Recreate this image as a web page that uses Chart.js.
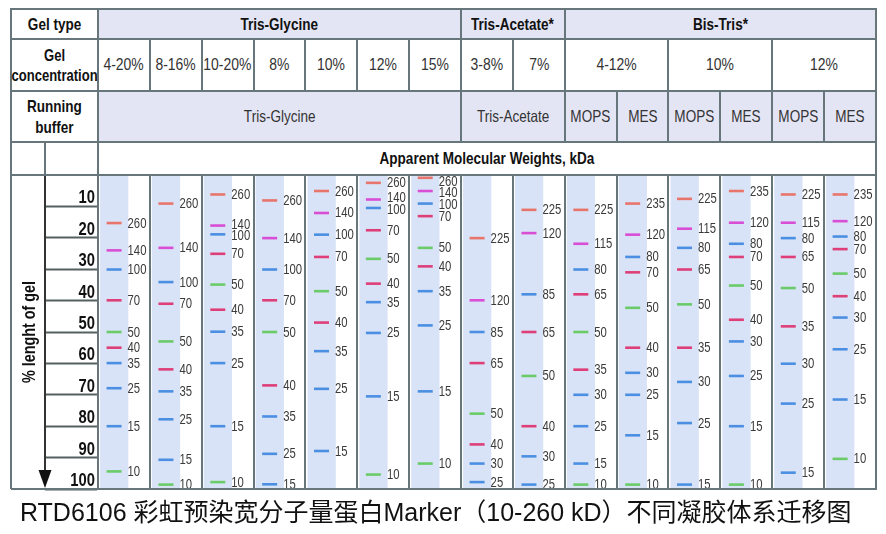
<!DOCTYPE html>
<html>
<head>
<meta charset="utf-8">
<script src="https://cdn.jsdelivr.net/npm/chart.js@4.4.1/dist/chart.umd.min.js"></script>
<style>
html,body{margin:0;padding:0;background:#fff;}
#wrap{position:relative;width:886px;height:534px;overflow:hidden;background:#fff;}
#c{position:absolute;left:0;top:0;}
.cell{position:absolute;box-sizing:border-box;display:flex;align-items:center;justify-content:center;text-align:center;
  font-family:"Liberation Sans",Arial,sans-serif;
  border:2px solid #66767a;line-height:1.22;white-space:nowrap;}
.cell span{display:inline-block;transform:scaleX(0.82);}
.b{font-weight:bold;font-size:16.5px;color:#111;}
.b.tight span{transform:scaleX(0.79);}
.r{font-size:16.5px;color:#333;}
.r.big{font-size:17px;}
.lav{background:#e4e5f4;}
.wh{background:#fff;}
#foot{position:absolute;left:20px;top:500px;font-family:"Liberation Sans","Noto Sans CJK SC",sans-serif;font-size:25px;line-height:25px;color:#111;white-space:nowrap;}
</style>
</head>
<body>
<div id="wrap">
  <canvas id="c" width="886" height="534"></canvas>
  <div id="foot">RTD6106 彩虹预染宽分子量蛋白Marker（10-260 kD）不同凝胶体系迁移图</div>
</div>
<script>
// ---------- header data ----------
const gelTypes = ['Tris-Glycine', 'Tris-Acetate*', 'Bis-Tris*'];
const gelTypeSpans = [7, 2, 6];
const concentrations = ['4-20%', '8-16%', '10-20%', '8%', '10%', '12%', '15%', '3-8%', '7%', '4-12%', '10%', '12%'];
const concentrationSpans = [1, 1, 1, 1, 1, 1, 1, 1, 1, 2, 2, 2];
const buffers = ['Tris-Glycine', 'Tris-Acetate', 'MOPS', 'MES', 'MOPS', 'MES', 'MOPS', 'MES'];
const bufferSpans = [7, 2, 1, 1, 1, 1, 1, 1];
const axisTitle = '% lenght of gel';
const mwTitle = 'Apparent Molecular Weights, kDa';
const axisTicks = [10, 20, 30, 40, 50, 60, 70, 80, 90, 100];

// ---------- marker sizes (kDa) ----------
const mwTrisGlycine = [260, 140, 100, 70, 50, 40, 35, 25, 15, 10];
const mwTrisAcetate = [225, 120, 85, 65, 50, 40, 30, 25];
const mwMOPS = [225, 115, 80, 65, 50, 35, 30, 25, 15, 10];
const mwMES = [235, 120, 80, 70, 50, 40, 30, 25, 15, 10];

// ---------- migration (% length of gel) per lane ----------
const migTG_4_20 = [15.3, 24.0, 30.1, 39.9, 50.0, 55.0, 59.9, 67.9, 80.0, 94.4];
const migTG_8_16 = [9.1, 23.2, 34.1, 41.0, 53.0, 61.9, 68.9, 77.8, 90.7, 98.6];
const migTG_10_20 = [6.2, 16.1, 18.9, 25.1, 34.9, 42.9, 49.9, 59.9, 80.0, 97.8];
const migTG_8 = [8.1, 20.1, 30.1, 39.9, 50.0, 67.0, 76.9, 88.8, 98.5];
const migTG_10 = [5.1, 12.1, 19.0, 26.1, 37.0, 47.0, 56.1, 68.1, 87.9];
const migTG_12 = [2.5, 7.8, 10.5, 17.6, 26.7, 34.6, 40.5, 50.3, 70.5, 95.4];
const migTG_15 = [0.9, 5.1, 9.1, 13.1, 23.2, 29.1, 37.0, 47.9, 68.9, 91.9];
const migTA_3_8 = [20.1, 39.9, 50.0, 59.9, 76.0, 85.8, 91.9, 97.8];
const migTA_7 = [11.1, 18.5, 38.0, 50.0, 64.0, 80.0, 89.6, 98.6];
const migBT4_12_MOPS = [11.1, 21.9, 30.1, 38.0, 50.0, 62.0, 70.0, 80.0, 91.9, 98.6];
const migBT4_12_MES = [9.1, 19.0, 26.1, 31.0, 42.3, 55.0, 63.0, 70.0, 82.9, 98.6];
const migBT10_MOPS = [7.6, 17.1, 23.2, 30.1, 41.2, 55.0, 65.9, 79.0, 98.6];
const migBT10_MES = [5.1, 15.2, 21.9, 26.1, 35.2, 46.1, 53.0, 64.0, 80.0, 98.6];
const migBT12_MOPS = [6.2, 15.2, 20.1, 26.1, 36.0, 48.2, 60.1, 72.8, 94.8];
const migBT12_MES = [6.2, 14.7, 19.6, 23.6, 31.4, 38.6, 45.4, 55.5, 71.5, 90.4];

const laneMw = [mwTrisGlycine, mwTrisGlycine, mwTrisGlycine, mwTrisGlycine, mwTrisGlycine, mwTrisGlycine, mwTrisGlycine,
  mwTrisAcetate, mwTrisAcetate, mwMOPS, mwMES, mwMOPS, mwMES, mwMOPS, mwMES];
const laneMig = [migTG_4_20, migTG_8_16, migTG_10_20, migTG_8, migTG_10, migTG_12, migTG_15,
  migTA_3_8, migTA_7, migBT4_12_MOPS, migBT4_12_MES, migBT10_MOPS, migBT10_MES, migBT12_MOPS, migBT12_MES];

// ---------- styles ----------
const bandColors = ['#e8756c', '#d84ed4', '#4b8fe2', '#de3f78', '#6acb68', '#de3f78', '#4b8fe2', '#4b8fe2', '#4b8fe2', '#6acb68'];
const LINE = '#66767a';
const STRIPE = '#d9e3f7';
const FONT = "'Liberation Sans', Arial, sans-serif";
const CONDENSE = 0.82;
const BAND_OFFSET = 0.31;   // band centre within lane
const STRIPE_FROM = 0.04, STRIPE_TO = 0.585;
const rowTops = [9, 39, 91, 142, 175];
const frameLeft = 11, axisLineX = 45;

const datasets = laneMig.map((mig, i) => ({
  label: 'lane' + (i + 1),
  data: mig.map((v, k) => ({x: i + BAND_OFFSET, y: v, mw: laneMw[i][k]})),
  pointStyle: 'line',
  pointRadius: 7.5,
  pointHoverRadius: 7.5,
  pointBorderWidth: 2.6,
  pointBorderColor: mig.map((v, k) => bandColors[k]),
  pointBackgroundColor: mig.map((v, k) => bandColors[k]),
  showLine: false
}));

const gelPlugin = {
  id: 'gel',
  beforeDraw(chart) {
    const {ctx, chartArea: a, scales: {x, y}} = chart;
    // condensed look for the y-axis labels and title (narrow typeface in the original)
    if (!y._condensed) {
      const origLabels = y.drawLabels.bind(y);
      y.drawLabels = function (area) {
        const c = this.ctx, ax = this.right - 3;
        c.save(); c.translate(ax, 0); c.scale(CONDENSE, 1); c.translate(-ax, 0);
        origLabels(area);
        c.restore();
      };
      const origTitle = y.drawTitle.bind(y);
      y.drawTitle = function () {
        const c = this.ctx, cy = (this.top + this.bottom) / 2;
        c.save(); c.translate(0, cy); c.scale(1, CONDENSE); c.translate(0, -cy);
        origTitle();
        c.restore();
      };
      y._condensed = true;
    }
    ctx.save();
    ctx.fillStyle = STRIPE;
    for (let i = 0; i < laneMig.length; i++) {
      const x1 = x.getPixelForValue(i + STRIPE_FROM), x2 = x.getPixelForValue(i + STRIPE_TO);
      ctx.fillRect(x1, a.top, x2 - x1, a.bottom - a.top);
    }
    ctx.restore();
  },
  afterDatasetsDraw(chart) {
    const {ctx, chartArea: a} = chart;
    ctx.save();
    ctx.font = '14.5px ' + FONT;
    ctx.fillStyle = '#3a3a3a';
    ctx.textAlign = 'left';
    ctx.textBaseline = 'middle';
    const gap = 11.8;
    chart.data.datasets.forEach((ds, di) => {
      const meta = chart.getDatasetMeta(di);
      const pts = meta.data.map((el, k) => ({x: el.x, y: el.y, t: String(ds.data[k].mw)}));
      const ys = pts.map(p => p.y);
      for (let it = 0; it < 60; it++) {
        for (let k = 1; k < ys.length; k++) {
          const d = ys[k] - ys[k - 1];
          if (d < gap) { const s = (gap - d) / 2; ys[k - 1] -= s; ys[k] += s; }
        }
        if (ys[0] < a.top + 6) ys[0] = a.top + 6;
      }
      for (let k = 1; k < ys.length; k++) if (ys[k] < ys[k - 1] + gap) ys[k] = ys[k - 1] + gap;
      pts.forEach((p, k) => {
        ctx.save();
        ctx.translate(p.x + 13.5, ys[k] + 0.5);
        ctx.scale(0.78, 1);
        ctx.fillText(p.t, 0, 0);
        ctx.restore();
      });
    });
    ctx.restore();
  },
  afterDraw(chart) {
    const {ctx, chartArea: a} = chart;
    ctx.save();
    ctx.strokeStyle = LINE;
    ctx.lineWidth = 2;
    ctx.beginPath();
    ctx.moveTo(frameLeft, a.top); ctx.lineTo(a.right + 1, a.top);
    ctx.moveTo(frameLeft, a.bottom); ctx.lineTo(a.right + 1, a.bottom);
    ctx.moveTo(frameLeft, a.top); ctx.lineTo(frameLeft, a.bottom);
    ctx.stroke();
    ctx.strokeStyle = '#333';
    ctx.beginPath();
    ctx.moveTo(axisLineX, a.top); ctx.lineTo(axisLineX, a.bottom - 14);
    ctx.stroke();
    ctx.fillStyle = '#111';
    ctx.beginPath();
    ctx.moveTo(axisLineX - 6.5, a.bottom - 19);
    ctx.lineTo(axisLineX + 6.5, a.bottom - 19);
    ctx.lineTo(axisLineX, a.bottom - 1);
    ctx.closePath();
    ctx.fill();
    ctx.restore();
  }
};

const chart = new Chart(document.getElementById('c'), {
  type: 'scatter',
  data: {datasets},
  options: {
    responsive: false,
    animation: false,
    events: [],
    layout: {padding: {left: frameLeft, top: rowTops[4], right: 9, bottom: 45}},
    plugins: {legend: {display: false}, tooltip: {enabled: false}},
    scales: {
      x: {
        type: 'linear', min: 0, max: laneMig.length, position: 'bottom',
        ticks: {display: false, stepSize: 1},
        grid: {color: LINE, lineWidth: 2, drawTicks: false},
        border: {display: false},
        afterFit(s) { s.height = 0; }
      },
      y: {
        type: 'linear', reverse: true, min: 0, max: 100, position: 'left',
        afterBuildTicks(s) { s.ticks = axisTicks.map(v => ({value: v})); },
        ticks: {font: {family: FONT, size: 18, weight: 'bold'}, color: '#111', padding: -50, labelOffset: -8},
        grid: {display: true, drawOnChartArea: false, drawTicks: true, tickLength: 53, color: LINE, tickColor: '#55605f', tickWidth: 2},
        border: {display: true, color: LINE, width: 2},
        title: {display: true, text: axisTitle, font: {family: FONT, size: 17.5, weight: 'bold'}, color: '#111', padding: {top: 9, bottom: 0}},
        afterFit(s) { s.width = 87; }
      }
    }
  },
  plugins: [gelPlugin]
});

// ---------- header table (HTML text), aligned with the chart's x scale ----------
const wrap = document.getElementById('wrap');
const xs = v => chart.scales.x.getPixelForValue(v);
function cell(x1, y1, x2, y2, html, cls) {
  const d = document.createElement('div');
  d.className = 'cell ' + cls;
  d.style.left = (x1 - 1) + 'px';
  d.style.top = (y1 - 1) + 'px';
  d.style.width = (x2 - x1 + 2) + 'px';
  d.style.height = (y2 - y1 + 2) + 'px';
  if (html) d.innerHTML = '<span>' + html + '</span>';
  wrap.appendChild(d);
}
function spanRow(labels, spans, y1, y2, cls) {
  let start = 0;
  labels.forEach((t, i) => {
    cell(xs(start), y1, xs(start + spans[i]), y2, t, cls);
    start += spans[i];
  });
}
const L = xs(0), R = xs(laneMig.length);
cell(frameLeft, rowTops[0], L, rowTops[1], 'Gel type', 'b wh');
spanRow(gelTypes, gelTypeSpans, rowTops[0], rowTops[1], 'b lav');
cell(frameLeft, rowTops[1], L, rowTops[2], 'Gel<br>concentration', 'b tight wh');
spanRow(concentrations, concentrationSpans, rowTops[1], rowTops[2], 'r big wh');
cell(frameLeft, rowTops[2], L, rowTops[3], 'Running<br>buffer', 'b wh');
spanRow(buffers, bufferSpans, rowTops[2], rowTops[3], 'r lav');
cell(frameLeft, rowTops[3], axisLineX, rowTops[4], '', 'wh');
cell(axisLineX, rowTops[3], L, rowTops[4], '', 'wh');
cell(L, rowTops[3], R, rowTops[4], mwTitle, 'b wh');
chart.draw();
</script>
</body>
</html>
